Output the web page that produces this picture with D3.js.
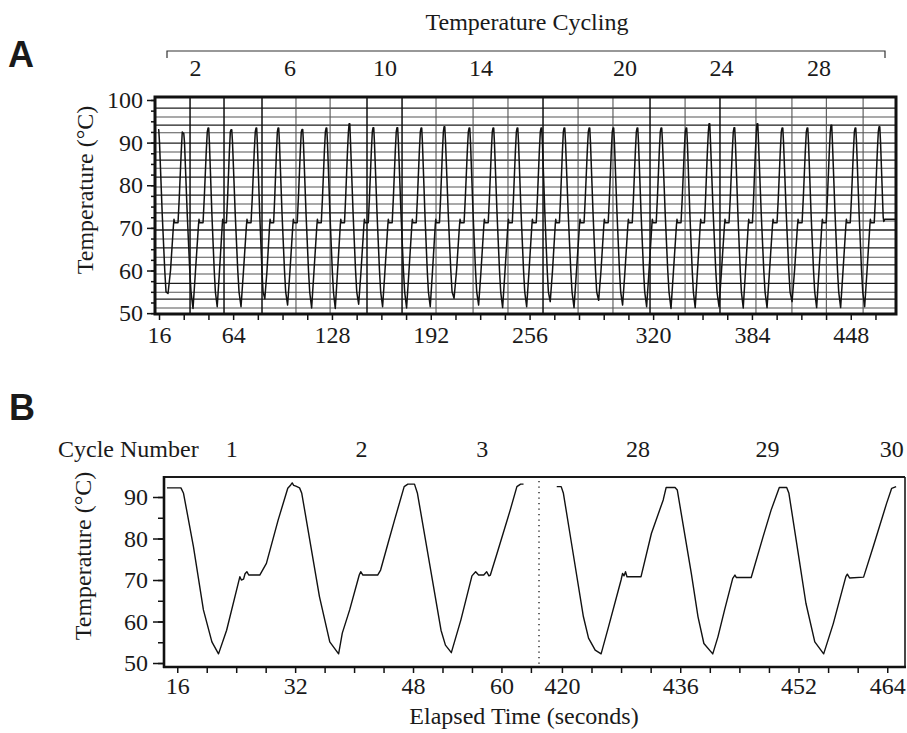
<!DOCTYPE html>
<html><head><meta charset="utf-8">
<script src="https://cdn.jsdelivr.net/npm/d3@7"></script>
<style>
body{margin:0;background:#fff}
svg{display:block}
text{font-family:"Liberation Serif","Times New Roman",serif;fill:#1a1a1a}
</style>
</head><body>
<svg id="c" width="907" height="733"></svg>
<script>
// ---------------- Panel A data ----------------
const aPeakTimes = [15.35,31.54,47.74,62.63,78.82,93.07,108.6,124.2,139.1,154.6,170.1,185.7,200.6,216.8,232.3,247.9,263.4,278.3,294.5,310.0,325.6,341.1,357.3,372.2,388.4,403.3,419.5,435.7,451.2,466.8,482.3];
const aPeakTemps = [93.0,92.2,93.4,93.0,93.4,93.4,93.1,93.4,94.4,93.5,93.5,93.4,93.7,93.4,93.4,93.4,93.4,93.4,93.4,93.4,93.4,93.4,93.4,94.4,93.5,94.4,93.4,93.4,94.1,93.4,93.7];
const aMinTemps = [54.6,51.1,51.5,51.5,53.4,51.9,51.2,51.1,52.1,51.5,51.2,51.5,53.5,51.9,51.3,51.5,52.7,51.3,53.0,51.9,51.5,51.1,51.3,51.5,51.2,51.3,52.7,51.3,51.3,51.5];
// one recorded cycle (fraction of the cycle, temperature); P = peak, M = minimum of that cycle
const aShapeFrac = [0.0,0.03,0.06,0.17,0.27,0.32,0.40,0.50,0.62,0.64,0.66,0.80,0.85,0.93,0.97];
const aShapeTemp = ["P","P",90,73,60,55,"M",60,70.8,72,71.2,71.2,77,88,92.5];
const aFinalTimes = [482.8,483.3,485.0,485.4,486.0,493.0];
const aFinalTemps = ["P",90,72.5,71.5,72,72];
const aCycleLabels = [2,6,10,14,20,24,28];
const aTickValues = [16,64,128,192,256,336,400,464];
const aTickLabels = ["16","64","128","192","256","320","384","448"];
const aYTicks = [50,60,70,80,90,100];
const aHGrid = [98.1,96.0,94.1,92.3,89.9,87.8,85.9,84.0,81.9,79.6,77.7,75.6,73.5,71.6,69.5,67.4,65.3,63.1,61.3,59.2,57.0,54.9,53.3,51.2];
const aVGridDark = [36.1,58.1,82.7,150.7,173.4,264.7,334.0,379.3];
const aVGridLight = [104.7,126.8,195.4,219.4,242.0,287.4,310.0,356.7,402.6,425.9,448.2,472.0];

// ---------------- Panel B data ----------------
const bLeftTimes = [14.6,16.5,16.85,18.2,19.55,20.7,21.6,22.7,24.5,24.7,25.0,25.2,25.45,25.7,27.2,28.1,29.7,31.0,31.4,31.6,31.8,32.1,32.6,32.9,35.3,36.7,37.9,38.4,39.4,40.7,40.9,41.2,43.2,43.6,44.6,45.5,46.8,47.3,48.2,48.6,50.4,51.8,52.4,53.2,54.5,56.0,56.5,56.9,57.6,58.0,58.3,58.5,59.4,61.2,62.1,62.6,63.0];
const bLeftTemps = [92.2,92.2,90.9,78.0,62.8,55.1,52.2,57.9,70.8,70.0,70.2,71.5,72.0,71.2,71.2,74.0,84.5,92.1,92.9,93.4,92.8,92.6,92.2,90.9,66.0,55.1,52.2,57.2,62.8,71.2,72.0,71.2,71.2,72.4,78.8,84.5,92.5,93.1,93.1,90.9,72.4,57.9,54.3,52.5,60.4,71.0,72.0,71.2,71.2,72.0,71.0,71.2,76.4,86.9,92.5,93.1,93.1];
const bRightTimes = [419.3,419.9,420.2,421.3,422.9,423.6,424.5,425.3,426.3,428.0,428.2,428.4,428.6,428.8,430.7,432.1,433.7,434.1,435.3,435.6,437.5,438.4,439.2,440.4,441.1,442.0,443.1,443.4,443.6,445.6,447.2,448.3,449.4,450.4,450.7,452.1,453.0,454.2,455.4,456.7,458.4,458.6,458.9,460.8,462.1,463.9,464.6,465.2];
const bRightTemps = [92.5,92.5,90.9,78.8,61.2,56.0,53.1,52.2,58.7,70.0,71.6,71.0,72.0,70.8,70.8,81.2,89.3,92.3,92.3,91.7,71.6,61.2,54.7,52.2,56.3,62.8,70.4,71.2,70.6,70.6,80.4,86.9,92.3,92.3,90.9,74.8,64.4,55.1,52.2,59.5,70.8,71.4,70.5,70.7,78.0,88.4,92.1,92.5];
const bTickValues = [16,32,48,60,420,436,452,464];
const bTickLabels = ["16","32","48","60","420","436","452","464"];
const bMinorTicks = [16,20,24,28,32,36,40,44,48,52,56,60,64,420,424,428,432,436,440,444,448,452,456,460,464];
const bCycleNumbers = ["1","2","3","28","29","30"];
const bCycleTimes = [23.4,41.0,57.4,430.3,447.8,464.6];
const bYTicks = [50,60,70,80,90];
const bBreakTime = 65.1;

const svg = d3.select("#c");
const FS = 24;
const SERIF = "'Liberation Serif','Times New Roman',serif";

// ================= PANEL A =================
const xA = d3.scaleLinear().domain([13.4, 493.3]).range([155, 896]);
const yA = d3.scaleLinear().domain([49.8, 100.7]).range([314, 97]);

svg.append("text").text("A").attr("x", 8).attr("y", 67)
  .style("font-family", "'Liberation Sans',Arial,sans-serif").style("font-weight", "bold").style("font-size", "36px");

svg.append("text").text("Temperature Cycling").attr("x", 527).attr("y", 30)
  .attr("text-anchor", "middle").style("font-size", FS + "px");
svg.append("path").attr("d", "M167,58V51H885V58").attr("fill", "none").attr("stroke", "#333").attr("stroke-width", 1.2);

const cycMid = n => (aPeakTimes[n - 1] + aPeakTimes[n]) / 2;
svg.selectAll(".acl").data(aCycleLabels).join("text").attr("class", "acl")
  .attr("x", d => xA(cycMid(d))).attr("y", 76).attr("text-anchor", "middle")
  .style("font-size", FS + "px").text(d => d);

svg.append("clipPath").attr("id", "clipA").append("rect")
  .attr("x", 155).attr("y", 97).attr("width", 741).attr("height", 217);
const gA = svg.append("g").attr("clip-path", "url(#clipA)");

gA.selectAll(".hg").data(aHGrid).join("line").attr("class", "hg")
  .attr("x1", 155).attr("x2", 896).attr("y1", d => yA(d)).attr("y2", d => yA(d))
  .attr("stroke", (d, i) => i % 2 ? "#555" : "#1e1e1e").attr("stroke-width", (d, i) => i % 2 ? 1.1 : 1.3);
gA.selectAll(".vgl").data(aVGridLight).join("line").attr("class", "vgl")
  .attr("x1", d => xA(d)).attr("x2", d => xA(d)).attr("y1", 97).attr("y2", 314)
  .attr("stroke", "#555").attr("stroke-width", 1.1);
gA.selectAll(".vgd").data(aVGridDark).join("line").attr("class", "vgd")
  .attr("x1", d => xA(d)).attr("x2", d => xA(d)).attr("y1", 97).attr("y2", 314)
  .attr("stroke", "#111").attr("stroke-width", 1.5);

const aSeries = [];
aPeakTimes.forEach((tp, i) => {
  if (i < aPeakTimes.length - 1) {
    const per = aPeakTimes[i + 1] - tp;
    aShapeFrac.forEach((f, j) => {
      const s = aShapeTemp[j];
      const v = s === "P" ? aPeakTemps[i] : s === "M" ? aMinTemps[i] : s;
      aSeries.push([tp + f * per, v]);
    });
  } else {
    aSeries.push([tp, aPeakTemps[i]]);
    aFinalTimes.forEach((t, j) => aSeries.push([t, aFinalTemps[j] === "P" ? aPeakTemps[i] : aFinalTemps[j]]));
  }
});
gA.append("path").datum(aSeries)
  .attr("d", d3.line().x(d => xA(d[0])).y(d => yA(d[1])))
  .attr("fill", "none").attr("stroke", "#111").attr("stroke-width", 1.5).attr("stroke-linejoin", "round");

svg.append("rect").attr("x", 155).attr("y", 97).attr("width", 741).attr("height", 217)
  .attr("fill", "none").attr("stroke", "#111").attr("stroke-width", 3);

// y axis A
const yAxMinor = svg.append("g").attr("transform", "translate(155,0)")
  .call(d3.axisLeft(yA).tickValues(d3.range(50, 100.1, 2.5)).tickSize(4).tickFormat(""));
const yAxMajor = svg.append("g").attr("transform", "translate(155,0)")
  .call(d3.axisLeft(yA).tickValues(aYTicks).tickSize(8).tickPadding(4));
[yAxMinor, yAxMajor].forEach(g => { g.attr("font-family", SERIF); g.select(".domain").remove(); g.selectAll("line").attr("stroke", "#111").attr("stroke-width", 1.5); });
yAxMajor.selectAll("text").style("font-size", FS + "px").style("font-family", SERIF).attr("fill", "#1a1a1a");

// x axis A
const xAx = svg.append("g").attr("transform", "translate(0,314)").attr("font-family", SERIF)
  .call(d3.axisBottom(xA).tickValues(d3.range(16, 490, 16)).tickSize(6).tickPadding(6)
    .tickFormat(d => { const k = aTickValues.indexOf(d); return k >= 0 ? aTickLabels[k] : ""; }));
xAx.select(".domain").remove();
xAx.selectAll("line").attr("stroke", "#111").attr("stroke-width", 1.5);
xAx.selectAll("text").style("font-size", FS + "px").style("font-family", SERIF).attr("fill", "#1a1a1a");

svg.append("text").text("Temperature (°C)").attr("text-anchor", "middle")
  .attr("transform", "translate(93,190) rotate(-90)").style("font-size", FS + "px");

// ================= PANEL B =================
svg.append("text").text("B").attr("x", 9).attr("y", 420)
  .style("font-family", "'Liberation Sans',Arial,sans-serif").style("font-weight", "bold").style("font-size", "36px");

const xB = d3.scaleLinear().domain([14.2, bBreakTime, 416.9, 466.4]).range([164, 539, 539, 905]);
const yB = d3.scaleLinear().domain([49.04, 94.82]).range([667, 477]);

svg.append("text").text("Cycle Number").attr("x", 58).attr("y", 457).style("font-size", FS + "px");
svg.selectAll(".bcl").data(bCycleNumbers).join("text").attr("class", "bcl")
  .attr("x", (d, i) => xB(bCycleTimes[i])).attr("y", 457).attr("text-anchor", "middle")
  .style("font-size", FS + "px").text(d => d);

const lineB = d3.line().x(d => xB(d[0])).y(d => yB(d[1]));
svg.append("path").datum(bLeftTimes.map((t, i) => [t, bLeftTemps[i]])).attr("d", lineB)
  .attr("fill", "none").attr("stroke", "#111").attr("stroke-width", 1.4).attr("stroke-linejoin", "round");
svg.append("path").datum(bRightTimes.map((t, i) => [t, bRightTemps[i]])).attr("d", lineB)
  .attr("fill", "none").attr("stroke", "#111").attr("stroke-width", 1.4).attr("stroke-linejoin", "round");

// break marker
svg.append("line").attr("x1", xB(bBreakTime)).attr("x2", xB(bBreakTime)).attr("y1", 481).attr("y2", 666)
  .attr("stroke", "#222").attr("stroke-width", 1.4).attr("stroke-dasharray", "1.3,4.2");

// frame
svg.append("line").attr("x1", 164).attr("x2", 905).attr("y1", 477).attr("y2", 477).attr("stroke", "#1a1a1a").attr("stroke-width", 2.2);
svg.append("line").attr("x1", 905).attr("x2", 905).attr("y1", 477).attr("y2", 667).attr("stroke", "#1a1a1a").attr("stroke-width", 1.6);
svg.append("line").attr("x1", 164).attr("x2", 164).attr("y1", 476).attr("y2", 668).attr("stroke", "#111").attr("stroke-width", 2.6);
svg.append("line").attr("x1", 163).attr("x2", 906).attr("y1", 667).attr("y2", 667).attr("stroke", "#111").attr("stroke-width", 2.6);

const yBMinor = svg.append("g").attr("transform", "translate(164,0)")
  .call(d3.axisLeft(yB).tickValues(d3.range(50, 90.1, 5)).tickSize(6).tickFormat(""));
const yBMajor = svg.append("g").attr("transform", "translate(164,0)")
  .call(d3.axisLeft(yB).tickValues(bYTicks).tickSize(11).tickPadding(5));
[yBMinor, yBMajor].forEach(g => { g.attr("font-family", SERIF); g.select(".domain").remove(); g.selectAll("line").attr("stroke", "#111").attr("stroke-width", 1.5); });
yBMajor.selectAll("text").style("font-size", FS + "px").style("font-family", SERIF).attr("fill", "#1a1a1a");

const xBAx = svg.append("g").attr("transform", "translate(0,667)").attr("font-family", SERIF)
  .call(d3.axisBottom(xB).tickValues(bMinorTicks).tickSize(6).tickPadding(4)
    .tickFormat(d => { const k = bTickValues.indexOf(d); return k >= 0 ? bTickLabels[k] : ""; }));
xBAx.select(".domain").remove();
xBAx.selectAll("line").attr("stroke", "#111").attr("stroke-width", 1.5);
xBAx.selectAll("text").style("font-size", FS + "px").style("font-family", SERIF).attr("fill", "#1a1a1a");

svg.append("text").text("Temperature (°C)").attr("text-anchor", "middle")
  .attr("transform", "translate(91,556) rotate(-90)").style("font-size", FS + "px");
svg.append("text").text("Elapsed Time (seconds)").attr("x", 524).attr("y", 724)
  .attr("text-anchor", "middle").style("font-size", FS + "px");
</script>
</body></html>
